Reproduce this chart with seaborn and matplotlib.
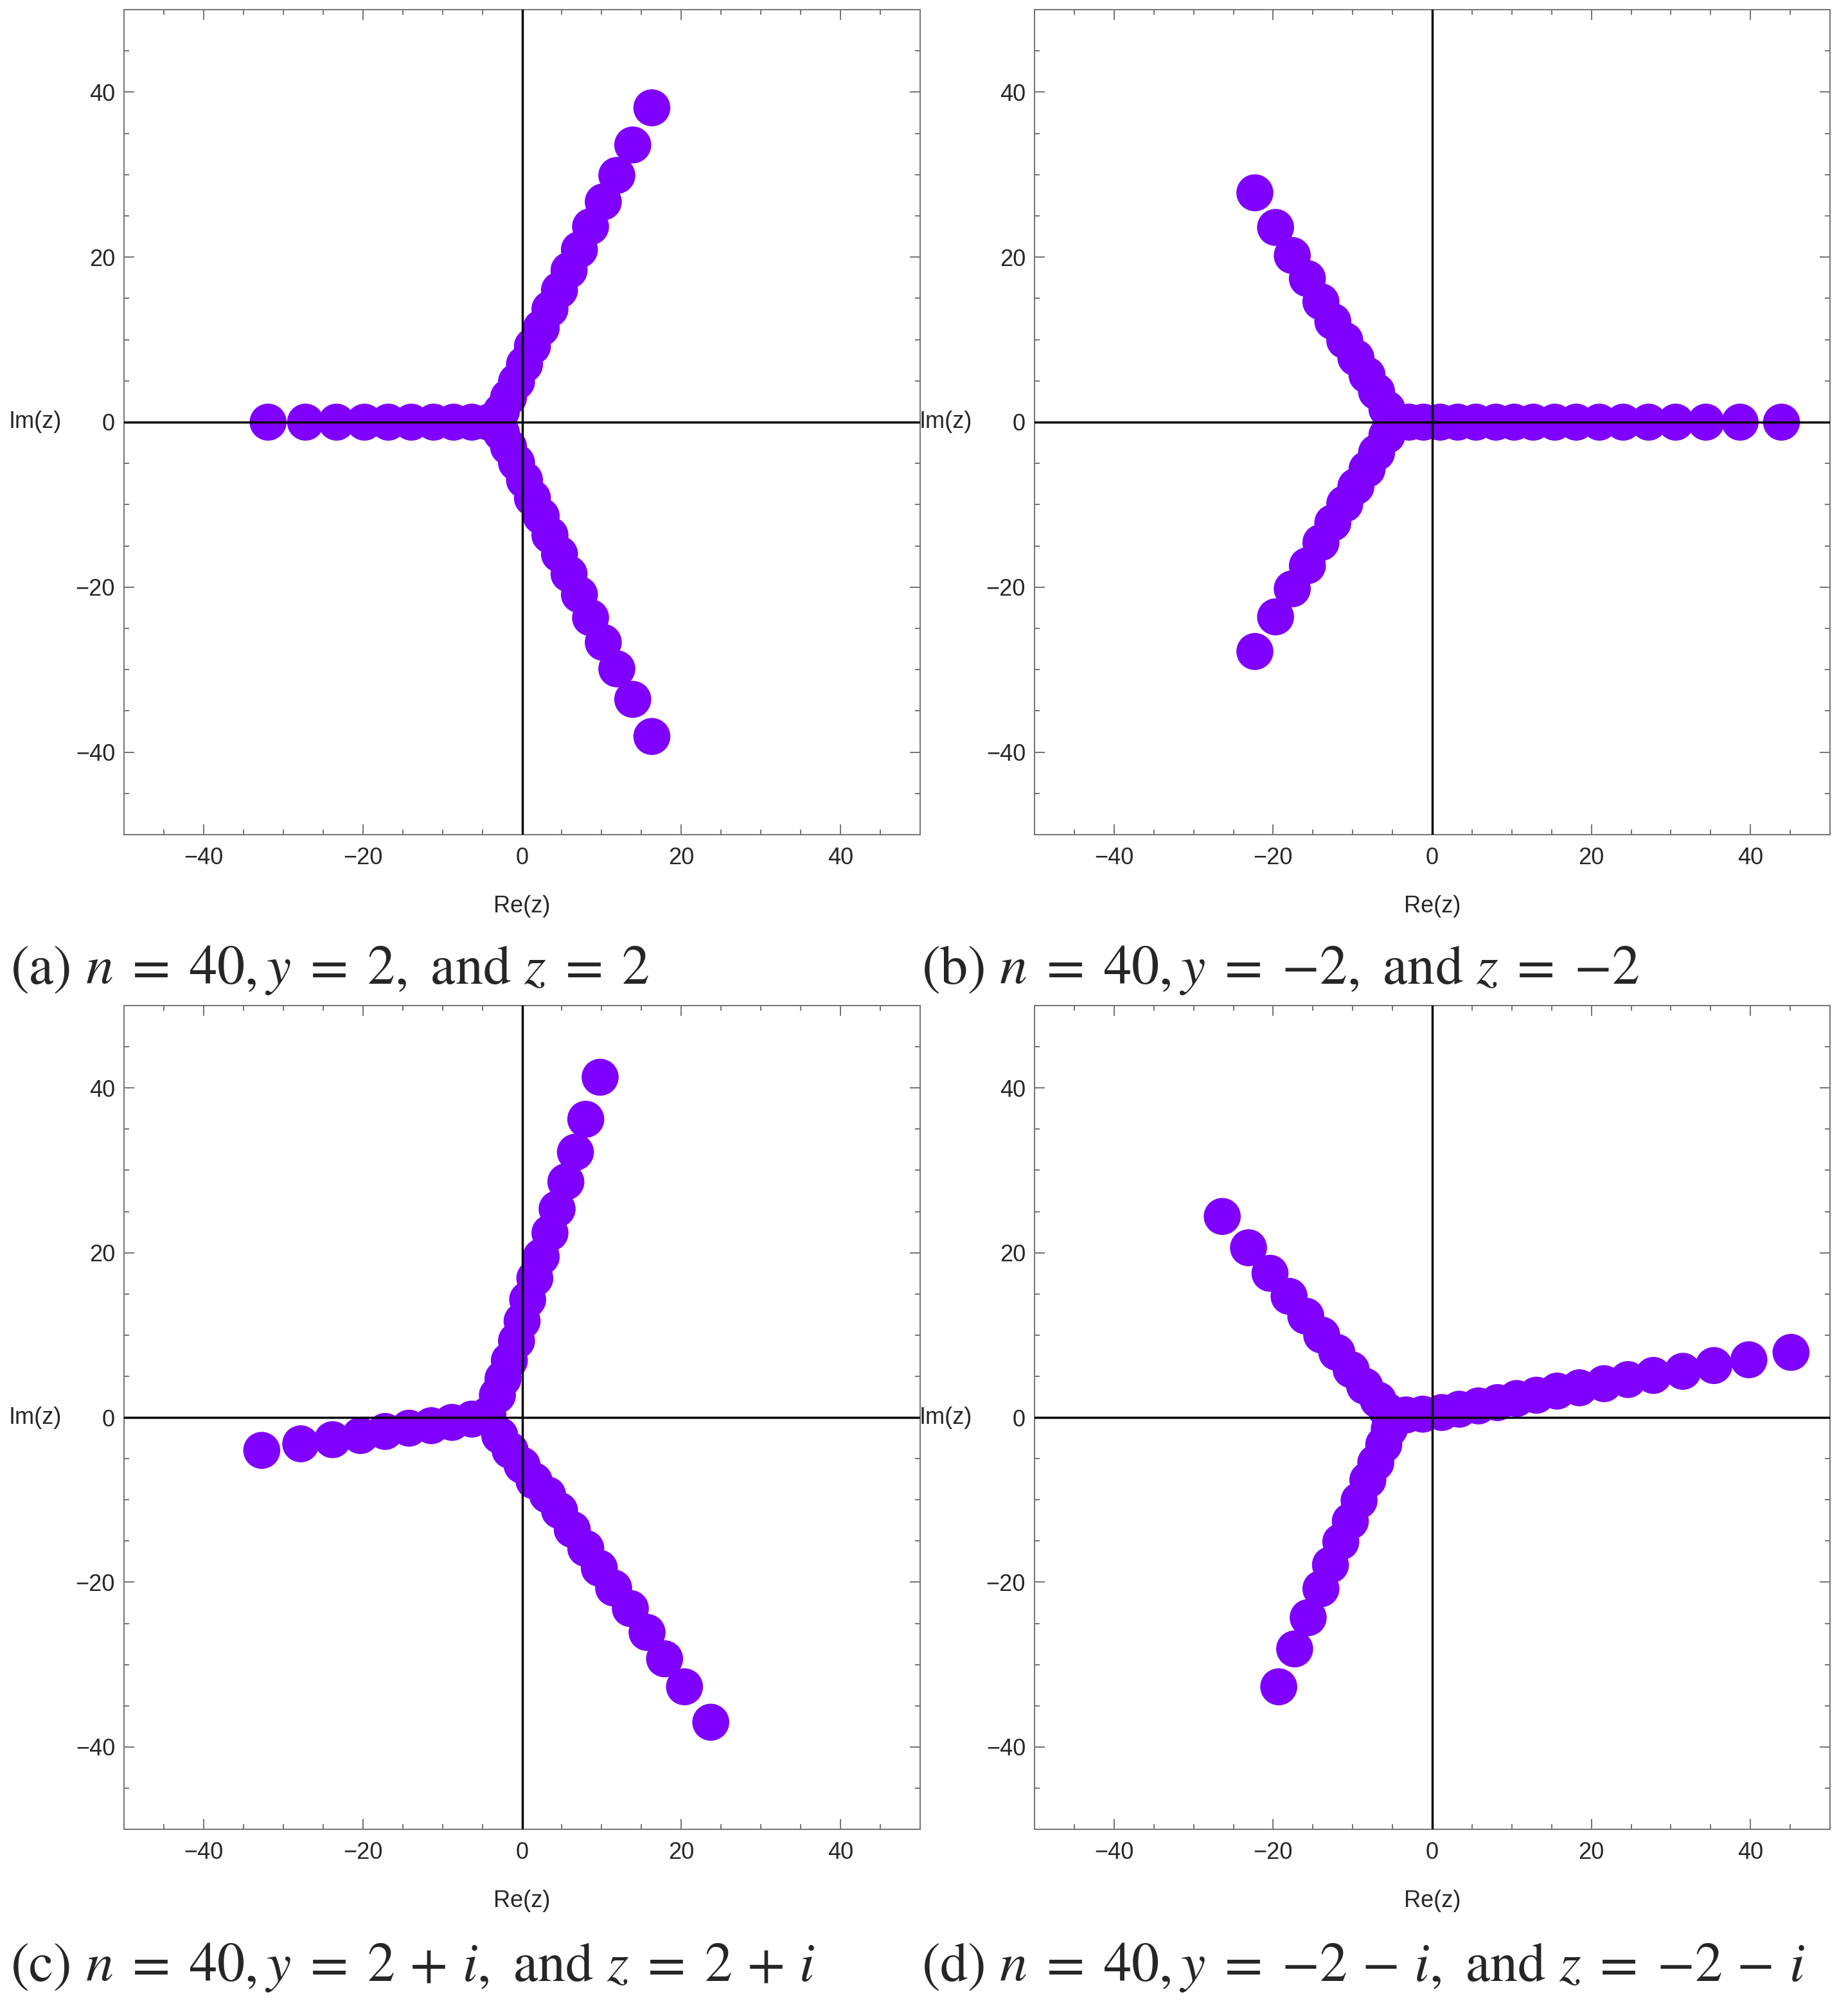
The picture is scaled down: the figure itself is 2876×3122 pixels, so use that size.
import numpy as np
import pandas as pd
import matplotlib
matplotlib.use("Agg")
import matplotlib.pyplot as plt
from matplotlib.ticker import MultipleLocator, FixedLocator
import seaborn as sns

# ---------------- data ----------------
# panel (a): n=40, y=2, z=2
a_re = [-31.9, -27.2, -23.3, -19.8, -16.8, -13.9, -11.1, -8.6, -6.3, -4.2,
        16.3, 13.9, 11.9, 10.2, 8.6, 7.2, 5.9, 4.7, 3.5, 2.4, 1.3, 0.3, -0.7, -1.7, -2.6,
        16.3, 13.9, 11.9, 10.2, 8.6, 7.2, 5.9, 4.7, 3.5, 2.4, 1.3, 0.3, -0.7, -1.7, -2.6]
a_im = [0, 0, 0, 0, 0, 0, 0, 0, 0, 0,
        38.1, 33.6, 29.9, 26.7, 23.7, 20.9, 18.4, 16.0, 13.7, 11.4, 9.2, 7.0, 4.9, 3.0, 1.3,
        -38.1, -33.6, -29.9, -26.7, -23.7, -20.9, -18.4, -16.0, -13.7, -11.4, -9.2, -7.0, -4.9, -3.0, -1.3]

# panel (b): n=40, y=-2, z=-2
b_re = [-4.7, -2.9, -1.1, 1.0, 3.2, 5.5, 8.0, 10.3, 12.7, 15.4, 18.1, 21.0, 24.0, 27.2, 30.6, 34.4, 38.7, 43.9,
        -22.3, -19.7, -17.6, -15.7, -14.0, -12.5, -11.0, -9.6, -8.2, -7.0, -5.7,
        -22.3, -19.7, -17.6, -15.7, -14.0, -12.5, -11.0, -9.6, -8.2, -7.0, -5.7]
b_im = [0, 0, 0, 0, 0, 0, 0, 0, 0, 0, 0, 0, 0, 0, 0, 0, 0, 0,
        27.8, 23.6, 20.2, 17.4, 14.6, 12.2, 9.9, 7.8, 5.7, 3.7, 1.6,
        -27.8, -23.6, -20.2, -17.4, -14.6, -12.2, -9.9, -7.8, -5.7, -3.7, -1.6]

# panel (c): n=40, y=2+i, z=2+i
c_re = [9.8, 8.0, 6.7, 5.5, 4.4, 3.5, 2.4, 1.6, 0.7, 0.0, -0.7, -1.6, -2.4, -3.1,
        23.7, 20.4, 17.9, 15.7, 13.6, 11.5, 9.7, 8.0, 6.3, 4.7, 3.2, 1.5, 0.0, -1.5, -2.8,
        -32.7, -27.8, -23.8, -20.3, -17.2, -14.2, -11.4, -8.8, -6.3, -4.3]
c_im = [41.3, 36.2, 32.2, 28.6, 25.3, 22.4, 19.5, 16.9, 14.3, 11.7, 9.3, 6.9, 4.7, 2.7,
        -37.0, -32.7, -29.3, -26.1, -23.2, -20.7, -18.3, -15.9, -13.6, -11.3, -9.4, -7.7, -5.8, -4.0, -2.2,
        -4.0, -3.2, -2.7, -2.2, -1.7, -1.3, -1.0, -0.6, -0.2, 0.3]

# panel (d): n=40, y=-2-i, z=-2-i
d_re = [-26.4, -23.1, -20.4, -18.0, -15.9, -13.9, -12.0, -10.2, -8.5, -6.8, -5.7,
        -19.3, -17.3, -15.6, -14.0, -12.8, -11.5, -10.3, -9.2, -8.1, -7.1, -6.1, -5.4,
        -3.3, -1.2, 1.2, 3.4, 5.8, 8.2, 10.6, 13.1, 15.7, 18.5, 21.6, 24.6, 27.8, 31.5, 35.4, 39.8, 45.1]
d_im = [24.4, 20.6, 17.5, 14.7, 12.3, 10.0, 7.9, 5.8, 3.8, 2.1, 0.8,
        -32.7, -28.1, -24.3, -20.8, -17.9, -15.1, -12.6, -10.1, -7.6, -5.5, -3.3, -1.4,
        0.3, 0.4, 0.6, 1.0, 1.4, 1.8, 2.3, 2.7, 3.2, 3.6, 4.1, 4.6, 5.1, 5.6, 6.3, 7.0, 7.9]

captions = [
    r"(a) $n \;=\; 40, y \;=\; 2,$ and $z \;=\; 2$",
    r"(b) $n \;=\; 40, y \;=\; {-}2,$ and $z \;=\; {-}2$",
    r"(c) $n \;=\; 40, y \;=\; 2 \,+\, i,$ and $z \;=\; 2 \,+\, i$",
    r"(d) $n \;=\; 40, y \;=\; {-}2 \,-\, i,$ and $z \;=\; {-}2 \,-\, i$",
]
major_ticks = [-40, -20, 0, 20, 40]
tick_labels = ["\u221240", "\u221220", "0", "20", "40"]

# ---------------- style ----------------
sns.set_style("white")
plt.rcParams["font.family"] = ["Liberation Sans", "DejaVu Sans"]
plt.rcParams["mathtext.fontset"] = "stix"

W, H, DPI = 2876, 3122, 200
fig = plt.figure(figsize=(W / DPI, H / DPI), dpi=DPI)

# axes boxes in pixels: (left, top, right, bottom)
boxes = [(193, 15, 1432, 1299), (1610, 15, 2848, 1299),
         (193, 1565, 1432, 2847), (1610, 1565, 2848, 2847)]
cap_pos = [(16, 1510), (1434, 1510), (16, 3062), (1434, 3062)]
datasets = [(a_re, a_im), (b_re, b_im), (c_re, c_im), (d_re, d_im)]

purple = "#7f00ff"
frame_col = "0.45"

for (l, t, r, b), (re, im), cap, (cx, cy) in zip(boxes, datasets, captions, cap_pos):
    ax = fig.add_axes([l / W, 1 - b / H, (r - l) / W, (b - t) / H])
    df = pd.DataFrame({"Re": re, "Im": im})
    sns.scatterplot(data=df, x="Re", y="Im", ax=ax, s=430, color=purple,
                    edgecolor="none", linewidth=0, zorder=2, legend=False)
    ax.axhline(0, color="black", lw=1.25, zorder=3)
    ax.axvline(0, color="black", lw=1.25, zorder=3)
    ax.set_xlim(-50, 50)
    ax.set_ylim(-50, 50)
    ax.xaxis.set_major_locator(FixedLocator(major_ticks))
    ax.yaxis.set_major_locator(FixedLocator(major_ticks))
    ax.set_xticklabels(tick_labels)
    ax.set_yticklabels(tick_labels)
    ax.xaxis.set_minor_locator(MultipleLocator(5))
    ax.yaxis.set_minor_locator(MultipleLocator(5))
    ax.tick_params(which="both", direction="in", top=True, right=True,
                   bottom=True, left=True, color=frame_col, width=0.7)
    ax.tick_params(which="major", length=5.8)
    ax.tick_params(which="minor", length=2.9)
    ax.tick_params(axis="x", which="major", pad=7, labelsize=13)
    ax.tick_params(axis="y", which="major", pad=5, labelsize=13)
    for sp in ax.spines.values():
        sp.set_color(frame_col)
        sp.set_linewidth(0.7)
    ax.set_xlabel("")
    ax.set_ylabel("")
    ax.annotate("Re(z)", xy=(0.5, 0), xycoords="axes fraction",
                xytext=(0, -40), textcoords="offset points",
                ha="center", va="center", fontsize=13)
    ax.annotate("Im(z)", xy=(0, 0.5), xycoords="axes fraction",
                xytext=(-35, 0), textcoords="offset points",
                ha="right", va="center", fontsize=13, annotation_clip=False)
    fig.text(cx / W, 1 - cy / H, cap, ha="left", va="center",
             fontsize=31, family="STIXGeneral")

fig.savefig("out.png", dpi=DPI)
